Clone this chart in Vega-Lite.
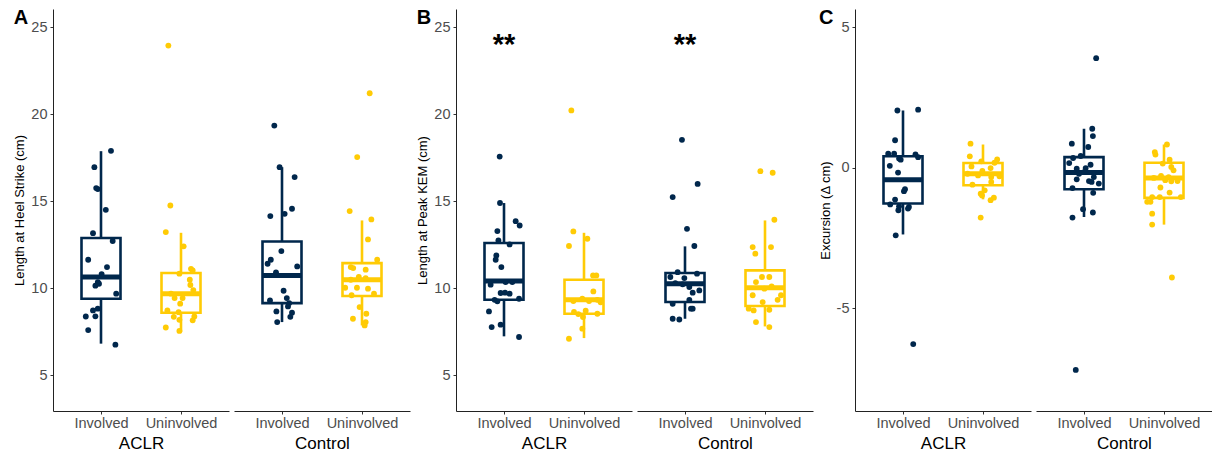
{
  "$schema": "https://vega.github.io/schema/vega-lite/v6.json",
  "padding": {"left": 13, "top": 8, "right": 0, "bottom": 0},
  "background": "white",
  "config": {
    "font": "Liberation Sans",
    "view": {"stroke": null},
    "axis": {"grid": false, "domainColor": "#222222", "domainWidth": 1, "tickColor": "#333333", "tickSize": 3, "tickWidth": 1, "labelFontSize": 14.5, "labelColor": "#4D4D4D", "labelPadding": 2.5, "titleFontWeight": "normal", "titleColor": "black"},
    "axisX": {"labelAngle": 0, "titleFontSize": 17, "titlePadding": 5},
    "axisY": {"titleFontSize": 13, "titlePadding": 4, "labelPadding": 3, "labelExpr": "'' + datum.value"},
    "title": {"anchor": "start", "frame": "bounds", "fontSize": 20, "fontWeight": "bold", "color": "black", "offset": -19, "baseline": "alphabetic"}
  },
  "datasets": {
    "A": [
      {"group":"ACLR","side":"Involved","kind":"box","lower":6.82,"q1":9.40,"median":10.65,"q3":12.89,"upper":17.88},
      {"group":"ACLR","side":"Uninvolved","kind":"box","lower":7.5,"q1":8.6,"median":9.69,"q3":10.88,"upper":13.19},
      {"group":"Control","side":"Involved","kind":"box","lower":8.06,"q1":9.15,"median":10.74,"q3":12.69,"upper":16.96},
      {"group":"Control","side":"Uninvolved","kind":"box","lower":7.87,"q1":9.56,"median":10.49,"q3":11.45,"upper":13.9},
      {"group":"ACLR","side":"Involved","kind":"pt","value":17.9,"jitter":0.125},
      {"group":"ACLR","side":"Involved","kind":"pt","value":16.96,"jitter":-0.083},
      {"group":"ACLR","side":"Involved","kind":"pt","value":15.76,"jitter":-0.06},
      {"group":"ACLR","side":"Involved","kind":"pt","value":15.7,"jitter":-0.04},
      {"group":"ACLR","side":"Involved","kind":"pt","value":14.51,"jitter":0.06},
      {"group":"ACLR","side":"Involved","kind":"pt","value":13.17,"jitter":-0.1},
      {"group":"ACLR","side":"Involved","kind":"pt","value":12.72,"jitter":0.146},
      {"group":"ACLR","side":"Involved","kind":"pt","value":11.64,"jitter":-0.16},
      {"group":"ACLR","side":"Involved","kind":"pt","value":11.22,"jitter":0.075},
      {"group":"ACLR","side":"Involved","kind":"pt","value":10.82,"jitter":0.008},
      {"group":"ACLR","side":"Involved","kind":"pt","value":10.36,"jitter":-0.04},
      {"group":"ACLR","side":"Involved","kind":"pt","value":10.15,"jitter":-0.07},
      {"group":"ACLR","side":"Involved","kind":"pt","value":10.26,"jitter":-0.025},
      {"group":"ACLR","side":"Involved","kind":"pt","value":9.69,"jitter":0.19},
      {"group":"ACLR","side":"Involved","kind":"pt","value":8.83,"jitter":-0.04},
      {"group":"ACLR","side":"Involved","kind":"pt","value":8.73,"jitter":-0.1},
      {"group":"ACLR","side":"Involved","kind":"pt","value":8.38,"jitter":-0.19},
      {"group":"ACLR","side":"Involved","kind":"pt","value":8.39,"jitter":-0.07},
      {"group":"ACLR","side":"Involved","kind":"pt","value":7.6,"jitter":-0.16},
      {"group":"ACLR","side":"Involved","kind":"pt","value":6.76,"jitter":0.18},
      {"group":"ACLR","side":"Uninvolved","kind":"pt","value":23.95,"jitter":-0.158},
      {"group":"ACLR","side":"Uninvolved","kind":"pt","value":14.76,"jitter":-0.133},
      {"group":"ACLR","side":"Uninvolved","kind":"pt","value":13.23,"jitter":-0.19},
      {"group":"ACLR","side":"Uninvolved","kind":"pt","value":12.41,"jitter":0.033},
      {"group":"ACLR","side":"Uninvolved","kind":"pt","value":11.12,"jitter":0.125},
      {"group":"ACLR","side":"Uninvolved","kind":"pt","value":11.03,"jitter":0.146},
      {"group":"ACLR","side":"Uninvolved","kind":"pt","value":10.84,"jitter":-0.02},
      {"group":"ACLR","side":"Uninvolved","kind":"pt","value":10.49,"jitter":0.11},
      {"group":"ACLR","side":"Uninvolved","kind":"pt","value":10.19,"jitter":0.117},
      {"group":"ACLR","side":"Uninvolved","kind":"pt","value":9.9,"jitter":0.154},
      {"group":"ACLR","side":"Uninvolved","kind":"pt","value":9.69,"jitter":-0.125},
      {"group":"ACLR","side":"Uninvolved","kind":"pt","value":9.44,"jitter":0.02},
      {"group":"ACLR","side":"Uninvolved","kind":"pt","value":9.44,"jitter":-0.08},
      {"group":"ACLR","side":"Uninvolved","kind":"pt","value":9.12,"jitter":-0.01},
      {"group":"ACLR","side":"Uninvolved","kind":"pt","value":8.73,"jitter":-0.17},
      {"group":"ACLR","side":"Uninvolved","kind":"pt","value":8.63,"jitter":-0.03},
      {"group":"ACLR","side":"Uninvolved","kind":"pt","value":8.36,"jitter":-0.09},
      {"group":"ACLR","side":"Uninvolved","kind":"pt","value":8.38,"jitter":0.167},
      {"group":"ACLR","side":"Uninvolved","kind":"pt","value":8.16,"jitter":0.146},
      {"group":"ACLR","side":"Uninvolved","kind":"pt","value":8.19,"jitter":-0.02},
      {"group":"ACLR","side":"Uninvolved","kind":"pt","value":7.75,"jitter":-0.19},
      {"group":"ACLR","side":"Uninvolved","kind":"pt","value":7.55,"jitter":-0.02},
      {"group":"Control","side":"Involved","kind":"pt","value":19.35,"jitter":-0.096},
      {"group":"Control","side":"Involved","kind":"pt","value":16.96,"jitter":-0.03},
      {"group":"Control","side":"Involved","kind":"pt","value":16.39,"jitter":0.158},
      {"group":"Control","side":"Involved","kind":"pt","value":14.15,"jitter":-0.146},
      {"group":"Control","side":"Involved","kind":"pt","value":14.28,"jitter":0.033},
      {"group":"Control","side":"Involved","kind":"pt","value":14.57,"jitter":0.125},
      {"group":"Control","side":"Involved","kind":"pt","value":12.14,"jitter":-0.008},
      {"group":"Control","side":"Involved","kind":"pt","value":11.64,"jitter":-0.14},
      {"group":"Control","side":"Involved","kind":"pt","value":11.41,"jitter":-0.18},
      {"group":"Control","side":"Involved","kind":"pt","value":11.26,"jitter":0.19},
      {"group":"Control","side":"Involved","kind":"pt","value":10.92,"jitter":-0.075},
      {"group":"Control","side":"Involved","kind":"pt","value":9.86,"jitter":0.02},
      {"group":"Control","side":"Involved","kind":"pt","value":9.44,"jitter":0.06},
      {"group":"Control","side":"Involved","kind":"pt","value":9.3,"jitter":-0.15},
      {"group":"Control","side":"Involved","kind":"pt","value":9.15,"jitter":0.09},
      {"group":"Control","side":"Involved","kind":"pt","value":8.96,"jitter":0.075},
      {"group":"Control","side":"Involved","kind":"pt","value":8.6,"jitter":0.125},
      {"group":"Control","side":"Involved","kind":"pt","value":8.36,"jitter":0.104},
      {"group":"Control","side":"Involved","kind":"pt","value":8.67,"jitter":-0.07},
      {"group":"Control","side":"Involved","kind":"pt","value":8.06,"jitter":-0.06},
      {"group":"Control","side":"Uninvolved","kind":"pt","value":21.21,"jitter":0.096},
      {"group":"Control","side":"Uninvolved","kind":"pt","value":17.54,"jitter":-0.06},
      {"group":"Control","side":"Uninvolved","kind":"pt","value":14.44,"jitter":-0.154},
      {"group":"Control","side":"Uninvolved","kind":"pt","value":13.96,"jitter":0.117},
      {"group":"Control","side":"Uninvolved","kind":"pt","value":12.81,"jitter":0.075},
      {"group":"Control","side":"Uninvolved","kind":"pt","value":11.64,"jitter":0.19},
      {"group":"Control","side":"Uninvolved","kind":"pt","value":11.22,"jitter":-0.14},
      {"group":"Control","side":"Uninvolved","kind":"pt","value":11.16,"jitter":-0.11},
      {"group":"Control","side":"Uninvolved","kind":"pt","value":11.07,"jitter":0.046},
      {"group":"Control","side":"Uninvolved","kind":"pt","value":10.65,"jitter":-0.04},
      {"group":"Control","side":"Uninvolved","kind":"pt","value":10.59,"jitter":0.046},
      {"group":"Control","side":"Uninvolved","kind":"pt","value":10.49,"jitter":-0.14},
      {"group":"Control","side":"Uninvolved","kind":"pt","value":10.03,"jitter":-0.21},
      {"group":"Control","side":"Uninvolved","kind":"pt","value":10.03,"jitter":-0.063},
      {"group":"Control","side":"Uninvolved","kind":"pt","value":9.98,"jitter":0.075},
      {"group":"Control","side":"Uninvolved","kind":"pt","value":9.69,"jitter":0.15},
      {"group":"Control","side":"Uninvolved","kind":"pt","value":9.6,"jitter":-0.13},
      {"group":"Control","side":"Uninvolved","kind":"pt","value":8.92,"jitter":-0.03},
      {"group":"Control","side":"Uninvolved","kind":"pt","value":8.54,"jitter":0.054},
      {"group":"Control","side":"Uninvolved","kind":"pt","value":8.25,"jitter":-0.113},
      {"group":"Control","side":"Uninvolved","kind":"pt","value":8.06,"jitter":0.046},
      {"group":"Control","side":"Uninvolved","kind":"pt","value":7.87,"jitter":0.033}
    ],
    "B": [
      {"group":"ACLR","side":"Involved","kind":"box","lower":7.24,"q1":9.34,"median":10.42,"q3":12.6,"upper":14.9},
      {"group":"ACLR","side":"Uninvolved","kind":"box","lower":7.14,"q1":8.54,"median":9.34,"q3":10.49,"upper":13.19},
      {"group":"Control","side":"Involved","kind":"box","lower":8.25,"q1":9.21,"median":10.26,"q3":10.88,"upper":12.41},
      {"group":"Control","side":"Uninvolved","kind":"box","lower":7.81,"q1":8.98,"median":10.03,"q3":11.03,"upper":13.9},
      {"group":"ACLR","side":"Involved","kind":"sig","value":24.0,"label":"**"},
      {"group":"Control","side":"Involved","kind":"sig","value":24.0,"label":"**"},
      {"group":"ACLR","side":"Involved","kind":"pt","value":17.57,"jitter":-0.054},
      {"group":"ACLR","side":"Involved","kind":"pt","value":14.9,"jitter":-0.05},
      {"group":"ACLR","side":"Involved","kind":"pt","value":13.86,"jitter":0.146},
      {"group":"ACLR","side":"Involved","kind":"pt","value":13.61,"jitter":0.196},
      {"group":"ACLR","side":"Involved","kind":"pt","value":13.29,"jitter":-0.083},
      {"group":"ACLR","side":"Involved","kind":"pt","value":12.75,"jitter":-0.07},
      {"group":"ACLR","side":"Involved","kind":"pt","value":12.52,"jitter":0.07},
      {"group":"ACLR","side":"Involved","kind":"pt","value":11.89,"jitter":-0.096},
      {"group":"ACLR","side":"Involved","kind":"pt","value":11.64,"jitter":-0.104},
      {"group":"ACLR","side":"Involved","kind":"pt","value":11.22,"jitter":-0.033},
      {"group":"ACLR","side":"Involved","kind":"pt","value":10.21,"jitter":-0.167},
      {"group":"ACLR","side":"Involved","kind":"pt","value":10.36,"jitter":0.104},
      {"group":"ACLR","side":"Involved","kind":"pt","value":10.36,"jitter":0.02},
      {"group":"ACLR","side":"Involved","kind":"pt","value":9.73,"jitter":-0.042},
      {"group":"ACLR","side":"Involved","kind":"pt","value":9.75,"jitter":0.013},
      {"group":"ACLR","side":"Involved","kind":"pt","value":9.69,"jitter":0.07},
      {"group":"ACLR","side":"Involved","kind":"pt","value":9.34,"jitter":-0.117},
      {"group":"ACLR","side":"Involved","kind":"pt","value":9.25,"jitter":-0.083},
      {"group":"ACLR","side":"Involved","kind":"pt","value":9.4,"jitter":0.188},
      {"group":"ACLR","side":"Involved","kind":"pt","value":8.67,"jitter":-0.188},
      {"group":"ACLR","side":"Involved","kind":"pt","value":7.77,"jitter":-0.154},
      {"group":"ACLR","side":"Involved","kind":"pt","value":7.91,"jitter":-0.042},
      {"group":"ACLR","side":"Involved","kind":"pt","value":7.2,"jitter":0.188},
      {"group":"ACLR","side":"Uninvolved","kind":"pt","value":20.22,"jitter":-0.158},
      {"group":"ACLR","side":"Uninvolved","kind":"pt","value":13.27,"jitter":-0.133},
      {"group":"ACLR","side":"Uninvolved","kind":"pt","value":12.43,"jitter":-0.188},
      {"group":"ACLR","side":"Uninvolved","kind":"pt","value":12.85,"jitter":0.042},
      {"group":"ACLR","side":"Uninvolved","kind":"pt","value":10.74,"jitter":0.113},
      {"group":"ACLR","side":"Uninvolved","kind":"pt","value":10.74,"jitter":0.154},
      {"group":"ACLR","side":"Uninvolved","kind":"pt","value":9.82,"jitter":0.117},
      {"group":"ACLR","side":"Uninvolved","kind":"pt","value":9.4,"jitter":-0.021},
      {"group":"ACLR","side":"Uninvolved","kind":"pt","value":9.27,"jitter":-0.133},
      {"group":"ACLR","side":"Uninvolved","kind":"pt","value":9.27,"jitter":0.063},
      {"group":"ACLR","side":"Uninvolved","kind":"pt","value":9.34,"jitter":0.167},
      {"group":"ACLR","side":"Uninvolved","kind":"pt","value":9.2,"jitter":0.208},
      {"group":"ACLR","side":"Uninvolved","kind":"pt","value":8.64,"jitter":-0.125},
      {"group":"ACLR","side":"Uninvolved","kind":"pt","value":8.52,"jitter":-0.071},
      {"group":"ACLR","side":"Uninvolved","kind":"pt","value":8.71,"jitter":0.021},
      {"group":"ACLR","side":"Uninvolved","kind":"pt","value":8.54,"jitter":0.167},
      {"group":"ACLR","side":"Uninvolved","kind":"pt","value":8.35,"jitter":-0.013},
      {"group":"ACLR","side":"Uninvolved","kind":"pt","value":7.68,"jitter":-0.021},
      {"group":"ACLR","side":"Uninvolved","kind":"pt","value":7.1,"jitter":-0.188},
      {"group":"Control","side":"Involved","kind":"pt","value":18.53,"jitter":-0.038},
      {"group":"Control","side":"Involved","kind":"pt","value":16.0,"jitter":0.158},
      {"group":"Control","side":"Involved","kind":"pt","value":15.24,"jitter":-0.154},
      {"group":"Control","side":"Involved","kind":"pt","value":13.42,"jitter":0.025},
      {"group":"Control","side":"Involved","kind":"pt","value":12.43,"jitter":0.117},
      {"group":"Control","side":"Involved","kind":"pt","value":10.93,"jitter":-0.092},
      {"group":"Control","side":"Involved","kind":"pt","value":10.65,"jitter":-0.183},
      {"group":"Control","side":"Involved","kind":"pt","value":10.59,"jitter":-0.008},
      {"group":"Control","side":"Involved","kind":"pt","value":10.84,"jitter":0.15},
      {"group":"Control","side":"Involved","kind":"pt","value":10.3,"jitter":-0.121},
      {"group":"Control","side":"Involved","kind":"pt","value":10.23,"jitter":-0.029},
      {"group":"Control","side":"Involved","kind":"pt","value":10.07,"jitter":0.054},
      {"group":"Control","side":"Involved","kind":"pt","value":9.88,"jitter":0.179},
      {"group":"Control","side":"Involved","kind":"pt","value":9.75,"jitter":0.096},
      {"group":"Control","side":"Involved","kind":"pt","value":9.34,"jitter":0.054},
      {"group":"Control","side":"Involved","kind":"pt","value":9.11,"jitter":-0.154},
      {"group":"Control","side":"Involved","kind":"pt","value":8.83,"jitter":0.075},
      {"group":"Control","side":"Involved","kind":"pt","value":8.83,"jitter":0.096},
      {"group":"Control","side":"Involved","kind":"pt","value":8.25,"jitter":-0.154},
      {"group":"Control","side":"Involved","kind":"pt","value":8.21,"jitter":-0.071},
      {"group":"Control","side":"Uninvolved","kind":"pt","value":16.73,"jitter":-0.058},
      {"group":"Control","side":"Uninvolved","kind":"pt","value":16.64,"jitter":0.096},
      {"group":"Control","side":"Uninvolved","kind":"pt","value":13.94,"jitter":0.117},
      {"group":"Control","side":"Uninvolved","kind":"pt","value":12.37,"jitter":-0.154},
      {"group":"Control","side":"Uninvolved","kind":"pt","value":12.37,"jitter":0.075},
      {"group":"Control","side":"Uninvolved","kind":"pt","value":11.99,"jitter":-0.121},
      {"group":"Control","side":"Uninvolved","kind":"pt","value":10.65,"jitter":-0.038},
      {"group":"Control","side":"Uninvolved","kind":"pt","value":10.65,"jitter":0.054},
      {"group":"Control","side":"Uninvolved","kind":"pt","value":10.36,"jitter":-0.113},
      {"group":"Control","side":"Uninvolved","kind":"pt","value":9.98,"jitter":-0.008},
      {"group":"Control","side":"Uninvolved","kind":"pt","value":10.11,"jitter":0.083},
      {"group":"Control","side":"Uninvolved","kind":"pt","value":9.6,"jitter":-0.154},
      {"group":"Control","side":"Uninvolved","kind":"pt","value":9.6,"jitter":0.2},
      {"group":"Control","side":"Uninvolved","kind":"pt","value":9.34,"jitter":0.158},
      {"group":"Control","side":"Uninvolved","kind":"pt","value":9.21,"jitter":-0.029},
      {"group":"Control","side":"Uninvolved","kind":"pt","value":8.83,"jitter":-0.204},
      {"group":"Control","side":"Uninvolved","kind":"pt","value":8.73,"jitter":-0.142},
      {"group":"Control","side":"Uninvolved","kind":"pt","value":8.77,"jitter":0.054},
      {"group":"Control","side":"Uninvolved","kind":"pt","value":8.06,"jitter":-0.113},
      {"group":"Control","side":"Uninvolved","kind":"pt","value":7.77,"jitter":0.054}
    ],
    "C": [
      {"group":"ACLR","side":"Involved","kind":"box","lower":-2.37,"q1":-1.27,"median":-0.42,"q3":0.41,"upper":2.04},
      {"group":"ACLR","side":"Uninvolved","kind":"box","lower":-1.12,"q1":-0.62,"median":-0.21,"q3":0.17,"upper":0.83},
      {"group":"Control","side":"Involved","kind":"box","lower":-1.75,"q1":-0.76,"median":-0.17,"q3":0.38,"upper":1.39},
      {"group":"Control","side":"Uninvolved","kind":"box","lower":-2.02,"q1":-1.07,"median":-0.36,"q3":0.18,"upper":0.83},
      {"group":"ACLR","side":"Involved","kind":"pt","value":2.04,"jitter":-0.07},
      {"group":"ACLR","side":"Involved","kind":"pt","value":2.07,"jitter":0.189},
      {"group":"ACLR","side":"Involved","kind":"pt","value":0.98,"jitter":-0.099},
      {"group":"ACLR","side":"Involved","kind":"pt","value":0.5,"jitter":-0.185},
      {"group":"ACLR","side":"Involved","kind":"pt","value":0.5,"jitter":-0.111},
      {"group":"ACLR","side":"Involved","kind":"pt","value":0.48,"jitter":0.156},
      {"group":"ACLR","side":"Involved","kind":"pt","value":0.38,"jitter":0.189},
      {"group":"ACLR","side":"Involved","kind":"pt","value":0.33,"jitter":-0.049},
      {"group":"ACLR","side":"Involved","kind":"pt","value":0.29,"jitter":-0.029},
      {"group":"ACLR","side":"Involved","kind":"pt","value":0.07,"jitter":-0.165},
      {"group":"ACLR","side":"Involved","kind":"pt","value":-0.17,"jitter":-0.062},
      {"group":"ACLR","side":"Involved","kind":"pt","value":-0.76,"jitter":0.025},
      {"group":"ACLR","side":"Involved","kind":"pt","value":-0.83,"jitter":0.012},
      {"group":"ACLR","side":"Involved","kind":"pt","value":-1.13,"jitter":-0.099},
      {"group":"ACLR","side":"Involved","kind":"pt","value":-1.3,"jitter":-0.16},
      {"group":"ACLR","side":"Involved","kind":"pt","value":-1.37,"jitter":-0.049},
      {"group":"ACLR","side":"Involved","kind":"pt","value":-1.39,"jitter":0.074},
      {"group":"ACLR","side":"Involved","kind":"pt","value":-1.51,"jitter":-0.058},
      {"group":"ACLR","side":"Involved","kind":"pt","value":-1.45,"jitter":0.062},
      {"group":"ACLR","side":"Involved","kind":"pt","value":-2.4,"jitter":-0.091},
      {"group":"ACLR","side":"Involved","kind":"pt","value":-6.27,"jitter":0.128},
      {"group":"ACLR","side":"Uninvolved","kind":"pt","value":0.86,"jitter":-0.156},
      {"group":"ACLR","side":"Uninvolved","kind":"pt","value":0.41,"jitter":-0.165},
      {"group":"ACLR","side":"Uninvolved","kind":"pt","value":0.3,"jitter":0.177},
      {"group":"ACLR","side":"Uninvolved","kind":"pt","value":0.18,"jitter":0.144},
      {"group":"ACLR","side":"Uninvolved","kind":"pt","value":0.23,"jitter":-0.021},
      {"group":"ACLR","side":"Uninvolved","kind":"pt","value":0.05,"jitter":-0.144},
      {"group":"ACLR","side":"Uninvolved","kind":"pt","value":-0.11,"jitter":-0.008},
      {"group":"ACLR","side":"Uninvolved","kind":"pt","value":-0.01,"jitter":0.095},
      {"group":"ACLR","side":"Uninvolved","kind":"pt","value":-0.21,"jitter":-0.193},
      {"group":"ACLR","side":"Uninvolved","kind":"pt","value":-0.27,"jitter":-0.062},
      {"group":"ACLR","side":"Uninvolved","kind":"pt","value":-0.33,"jitter":0.103},
      {"group":"ACLR","side":"Uninvolved","kind":"pt","value":-0.3,"jitter":0.206},
      {"group":"ACLR","side":"Uninvolved","kind":"pt","value":-0.6,"jitter":-0.132},
      {"group":"ACLR","side":"Uninvolved","kind":"pt","value":-0.5,"jitter":0.103},
      {"group":"ACLR","side":"Uninvolved","kind":"pt","value":-0.8,"jitter":0.021},
      {"group":"ACLR","side":"Uninvolved","kind":"pt","value":-0.92,"jitter":-0.029},
      {"group":"ACLR","side":"Uninvolved","kind":"pt","value":-0.98,"jitter":-0.012},
      {"group":"ACLR","side":"Uninvolved","kind":"pt","value":-1.15,"jitter":0.095},
      {"group":"ACLR","side":"Uninvolved","kind":"pt","value":-1.06,"jitter":0.136},
      {"group":"ACLR","side":"Uninvolved","kind":"pt","value":-1.77,"jitter":-0.029},
      {"group":"Control","side":"Involved","kind":"pt","value":3.9,"jitter":0.152},
      {"group":"Control","side":"Involved","kind":"pt","value":1.39,"jitter":0.103},
      {"group":"Control","side":"Involved","kind":"pt","value":1.13,"jitter":0.111},
      {"group":"Control","side":"Involved","kind":"pt","value":0.86,"jitter":-0.152},
      {"group":"Control","side":"Involved","kind":"pt","value":0.74,"jitter":0.053},
      {"group":"Control","side":"Involved","kind":"pt","value":0.42,"jitter":-0.041},
      {"group":"Control","side":"Involved","kind":"pt","value":0.35,"jitter":-0.136},
      {"group":"Control","side":"Involved","kind":"pt","value":0.17,"jitter":-0.185},
      {"group":"Control","side":"Involved","kind":"pt","value":0.11,"jitter":0.082},
      {"group":"Control","side":"Involved","kind":"pt","value":-0.03,"jitter":-0.091},
      {"group":"Control","side":"Involved","kind":"pt","value":-0.01,"jitter":0.021},
      {"group":"Control","side":"Involved","kind":"pt","value":-0.15,"jitter":0.0},
      {"group":"Control","side":"Involved","kind":"pt","value":-0.21,"jitter":-0.062},
      {"group":"Control","side":"Involved","kind":"pt","value":-0.33,"jitter":0.123},
      {"group":"Control","side":"Involved","kind":"pt","value":-0.47,"jitter":0.062},
      {"group":"Control","side":"Involved","kind":"pt","value":-0.41,"jitter":-0.091},
      {"group":"Control","side":"Involved","kind":"pt","value":-0.56,"jitter":0.185},
      {"group":"Control","side":"Involved","kind":"pt","value":-0.5,"jitter":0.095},
      {"group":"Control","side":"Involved","kind":"pt","value":-0.72,"jitter":-0.144},
      {"group":"Control","side":"Involved","kind":"pt","value":-0.89,"jitter":0.115},
      {"group":"Control","side":"Involved","kind":"pt","value":-1.47,"jitter":-0.012},
      {"group":"Control","side":"Involved","kind":"pt","value":-1.59,"jitter":0.111},
      {"group":"Control","side":"Involved","kind":"pt","value":-1.77,"jitter":-0.144},
      {"group":"Control","side":"Involved","kind":"pt","value":-7.19,"jitter":-0.103},
      {"group":"Control","side":"Uninvolved","kind":"pt","value":0.83,"jitter":0.037},
      {"group":"Control","side":"Uninvolved","kind":"pt","value":0.56,"jitter":-0.115},
      {"group":"Control","side":"Uninvolved","kind":"pt","value":0.47,"jitter":-0.107},
      {"group":"Control","side":"Uninvolved","kind":"pt","value":0.29,"jitter":0.07},
      {"group":"Control","side":"Uninvolved","kind":"pt","value":0.15,"jitter":-0.016},
      {"group":"Control","side":"Uninvolved","kind":"pt","value":0.03,"jitter":0.091},
      {"group":"Control","side":"Uninvolved","kind":"pt","value":-0.09,"jitter":0.119},
      {"group":"Control","side":"Uninvolved","kind":"pt","value":-0.29,"jitter":-0.037},
      {"group":"Control","side":"Uninvolved","kind":"pt","value":-0.33,"jitter":0.058},
      {"group":"Control","side":"Uninvolved","kind":"pt","value":-0.36,"jitter":-0.128},
      {"group":"Control","side":"Uninvolved","kind":"pt","value":-0.44,"jitter":0.016},
      {"group":"Control","side":"Uninvolved","kind":"pt","value":-0.48,"jitter":0.091},
      {"group":"Control","side":"Uninvolved","kind":"pt","value":-0.47,"jitter":0.169},
      {"group":"Control","side":"Uninvolved","kind":"pt","value":-0.7,"jitter":-0.045},
      {"group":"Control","side":"Uninvolved","kind":"pt","value":-0.88,"jitter":0.07},
      {"group":"Control","side":"Uninvolved","kind":"pt","value":-1.04,"jitter":-0.148},
      {"group":"Control","side":"Uninvolved","kind":"pt","value":-1.04,"jitter":-0.053},
      {"group":"Control","side":"Uninvolved","kind":"pt","value":-1.04,"jitter":0.21},
      {"group":"Control","side":"Uninvolved","kind":"pt","value":-1.21,"jitter":-0.21},
      {"group":"Control","side":"Uninvolved","kind":"pt","value":-1.21,"jitter":-0.169},
      {"group":"Control","side":"Uninvolved","kind":"pt","value":-1.63,"jitter":-0.148},
      {"group":"Control","side":"Uninvolved","kind":"pt","value":-2.02,"jitter":-0.148},
      {"group":"Control","side":"Uninvolved","kind":"pt","value":-3.9,"jitter":0.099}
    ]
  },
  "hconcat": [
    {
      "title": {"text": "A"},
      "spacing": 5,
      "hconcat": [
        {
          "width": 176, "height": 402,
          "data": {"name": "A"},
          "transform": [{"filter": "datum.group == 'ACLR'"}],
          "encoding": {"x": {"field": "side", "type": "nominal", "scale": {"type": "point", "padding": 0.6, "domain": ["Involved", "Uninvolved"]}, "axis": {"title": "ACLR"}}},
          "layer": [
            {"transform": [{"filter": "datum.kind == 'box'"}], "mark": {"type": "rule", "strokeWidth": 2.6},
             "encoding": {"y": {"field": "lower", "type": "quantitative", "scale": {"domain": [2.95, 26.05], "nice": false, "zero": false}, "axis": {"title": "Length at Heel Strike (cm)", "values": [5, 10, 15, 20, 25]}}, "y2": {"field": "upper"},
               "color": {"field": "side", "type": "nominal", "scale": {"domain": ["Involved", "Uninvolved"], "range": ["#00274C", "#FFCB05"]}, "legend": null}}},
            {"transform": [{"filter": "datum.kind == 'box'"}], "mark": {"type": "bar", "width": 39, "fill": "white", "strokeWidth": 2.6},
             "encoding": {"y": {"field": "q1", "type": "quantitative", "scale": {"domain": [2.95, 26.05], "nice": false, "zero": false}, "axis": {"title": "Length at Heel Strike (cm)", "values": [5, 10, 15, 20, 25]}}, "y2": {"field": "q3"},
               "stroke": {"field": "side", "type": "nominal", "scale": {"domain": ["Involved", "Uninvolved"], "range": ["#00274C", "#FFCB05"]}, "legend": null}}},
            {"transform": [{"filter": "datum.kind == 'box'"}], "mark": {"type": "tick", "size": 39, "thickness": 5, "opacity": 1},
             "encoding": {"y": {"field": "median", "type": "quantitative", "scale": {"domain": [2.95, 26.05], "nice": false, "zero": false}, "axis": {"title": "Length at Heel Strike (cm)", "values": [5, 10, 15, 20, 25]}},
               "color": {"field": "side", "type": "nominal", "scale": {"domain": ["Involved", "Uninvolved"], "range": ["#00274C", "#FFCB05"]}, "legend": null}}},
            {"transform": [{"filter": "datum.kind == 'pt'"}], "mark": {"type": "circle", "size": 34, "opacity": 1},
             "encoding": {"y": {"field": "value", "type": "quantitative", "scale": {"domain": [2.95, 26.05], "nice": false, "zero": false}, "axis": {"title": "Length at Heel Strike (cm)", "values": [5, 10, 15, 20, 25]}},
               "xOffset": {"field": "jitter", "type": "quantitative", "scale": {"domain": [-0.5, 0.5], "range": [-40, 40]}},
               "color": {"field": "side", "type": "nominal", "scale": {"domain": ["Involved", "Uninvolved"], "range": ["#00274C", "#FFCB05"]}, "legend": null}}}
          ]
        },
        {
          "width": 176, "height": 402,
          "data": {"name": "A"},
          "transform": [{"filter": "datum.group == 'Control'"}],
          "encoding": {"x": {"field": "side", "type": "nominal", "scale": {"type": "point", "padding": 0.6, "domain": ["Involved", "Uninvolved"]}, "axis": {"title": "Control"}}},
          "layer": [
            {"transform": [{"filter": "datum.kind == 'box'"}], "mark": {"type": "rule", "strokeWidth": 2.6},
             "encoding": {"y": {"field": "lower", "type": "quantitative", "scale": {"domain": [2.95, 26.05], "nice": false, "zero": false}, "axis": null}, "y2": {"field": "upper"},
               "color": {"field": "side", "type": "nominal", "scale": {"domain": ["Involved", "Uninvolved"], "range": ["#00274C", "#FFCB05"]}, "legend": null}}},
            {"transform": [{"filter": "datum.kind == 'box'"}], "mark": {"type": "bar", "width": 39, "fill": "white", "strokeWidth": 2.6},
             "encoding": {"y": {"field": "q1", "type": "quantitative", "scale": {"domain": [2.95, 26.05], "nice": false, "zero": false}, "axis": null}, "y2": {"field": "q3"},
               "stroke": {"field": "side", "type": "nominal", "scale": {"domain": ["Involved", "Uninvolved"], "range": ["#00274C", "#FFCB05"]}, "legend": null}}},
            {"transform": [{"filter": "datum.kind == 'box'"}], "mark": {"type": "tick", "size": 39, "thickness": 5, "opacity": 1},
             "encoding": {"y": {"field": "median", "type": "quantitative", "scale": {"domain": [2.95, 26.05], "nice": false, "zero": false}, "axis": null},
               "color": {"field": "side", "type": "nominal", "scale": {"domain": ["Involved", "Uninvolved"], "range": ["#00274C", "#FFCB05"]}, "legend": null}}},
            {"transform": [{"filter": "datum.kind == 'pt'"}], "mark": {"type": "circle", "size": 34, "opacity": 1},
             "encoding": {"y": {"field": "value", "type": "quantitative", "scale": {"domain": [2.95, 26.05], "nice": false, "zero": false}, "axis": null},
               "xOffset": {"field": "jitter", "type": "quantitative", "scale": {"domain": [-0.5, 0.5], "range": [-40, 40]}},
               "color": {"field": "side", "type": "nominal", "scale": {"domain": ["Involved", "Uninvolved"], "range": ["#00274C", "#FFCB05"]}, "legend": null}}}
          ]
        }
      ]
    },
    {
      "title": {"text": "B"},
      "spacing": 5,
      "hconcat": [
        {
          "width": 176, "height": 402,
          "data": {"name": "B"},
          "transform": [{"filter": "datum.group == 'ACLR'"}],
          "encoding": {"x": {"field": "side", "type": "nominal", "scale": {"type": "point", "padding": 0.6, "domain": ["Involved", "Uninvolved"]}, "axis": {"title": "ACLR"}}},
          "layer": [
            {"transform": [{"filter": "datum.kind == 'box'"}], "mark": {"type": "rule", "strokeWidth": 2.6},
             "encoding": {"y": {"field": "lower", "type": "quantitative", "scale": {"domain": [2.95, 26.05], "nice": false, "zero": false}, "axis": {"title": "Length at Peak KEM (cm)", "values": [5, 10, 15, 20, 25]}}, "y2": {"field": "upper"},
               "color": {"field": "side", "type": "nominal", "scale": {"domain": ["Involved", "Uninvolved"], "range": ["#00274C", "#FFCB05"]}, "legend": null}}},
            {"transform": [{"filter": "datum.kind == 'box'"}], "mark": {"type": "bar", "width": 39, "fill": "white", "strokeWidth": 2.6},
             "encoding": {"y": {"field": "q1", "type": "quantitative", "scale": {"domain": [2.95, 26.05], "nice": false, "zero": false}, "axis": {"title": "Length at Peak KEM (cm)", "values": [5, 10, 15, 20, 25]}}, "y2": {"field": "q3"},
               "stroke": {"field": "side", "type": "nominal", "scale": {"domain": ["Involved", "Uninvolved"], "range": ["#00274C", "#FFCB05"]}, "legend": null}}},
            {"transform": [{"filter": "datum.kind == 'box'"}], "mark": {"type": "tick", "size": 39, "thickness": 5, "opacity": 1},
             "encoding": {"y": {"field": "median", "type": "quantitative", "scale": {"domain": [2.95, 26.05], "nice": false, "zero": false}, "axis": {"title": "Length at Peak KEM (cm)", "values": [5, 10, 15, 20, 25]}},
               "color": {"field": "side", "type": "nominal", "scale": {"domain": ["Involved", "Uninvolved"], "range": ["#00274C", "#FFCB05"]}, "legend": null}}},
            {"transform": [{"filter": "datum.kind == 'pt'"}], "mark": {"type": "circle", "size": 34, "opacity": 1},
             "encoding": {"y": {"field": "value", "type": "quantitative", "scale": {"domain": [2.95, 26.05], "nice": false, "zero": false}, "axis": {"title": "Length at Peak KEM (cm)", "values": [5, 10, 15, 20, 25]}},
               "xOffset": {"field": "jitter", "type": "quantitative", "scale": {"domain": [-0.5, 0.5], "range": [-40, 40]}},
               "color": {"field": "side", "type": "nominal", "scale": {"domain": ["Involved", "Uninvolved"], "range": ["#00274C", "#FFCB05"]}, "legend": null}}},
            {"transform": [{"filter": "datum.kind == 'sig'"}], "mark": {"type": "text", "fontSize": 29, "fontWeight": "bold", "color": "black", "baseline": "middle"},
             "encoding": {"y": {"field": "value", "type": "quantitative", "scale": {"domain": [2.95, 26.05], "nice": false, "zero": false}, "axis": {"title": "Length at Peak KEM (cm)", "values": [5, 10, 15, 20, 25]}}, "text": {"field": "label"}}}
          ]
        },
        {
          "width": 176, "height": 402,
          "data": {"name": "B"},
          "transform": [{"filter": "datum.group == 'Control'"}],
          "encoding": {"x": {"field": "side", "type": "nominal", "scale": {"type": "point", "padding": 0.6, "domain": ["Involved", "Uninvolved"]}, "axis": {"title": "Control"}}},
          "layer": [
            {"transform": [{"filter": "datum.kind == 'box'"}], "mark": {"type": "rule", "strokeWidth": 2.6},
             "encoding": {"y": {"field": "lower", "type": "quantitative", "scale": {"domain": [2.95, 26.05], "nice": false, "zero": false}, "axis": null}, "y2": {"field": "upper"},
               "color": {"field": "side", "type": "nominal", "scale": {"domain": ["Involved", "Uninvolved"], "range": ["#00274C", "#FFCB05"]}, "legend": null}}},
            {"transform": [{"filter": "datum.kind == 'box'"}], "mark": {"type": "bar", "width": 39, "fill": "white", "strokeWidth": 2.6},
             "encoding": {"y": {"field": "q1", "type": "quantitative", "scale": {"domain": [2.95, 26.05], "nice": false, "zero": false}, "axis": null}, "y2": {"field": "q3"},
               "stroke": {"field": "side", "type": "nominal", "scale": {"domain": ["Involved", "Uninvolved"], "range": ["#00274C", "#FFCB05"]}, "legend": null}}},
            {"transform": [{"filter": "datum.kind == 'box'"}], "mark": {"type": "tick", "size": 39, "thickness": 5, "opacity": 1},
             "encoding": {"y": {"field": "median", "type": "quantitative", "scale": {"domain": [2.95, 26.05], "nice": false, "zero": false}, "axis": null},
               "color": {"field": "side", "type": "nominal", "scale": {"domain": ["Involved", "Uninvolved"], "range": ["#00274C", "#FFCB05"]}, "legend": null}}},
            {"transform": [{"filter": "datum.kind == 'pt'"}], "mark": {"type": "circle", "size": 34, "opacity": 1},
             "encoding": {"y": {"field": "value", "type": "quantitative", "scale": {"domain": [2.95, 26.05], "nice": false, "zero": false}, "axis": null},
               "xOffset": {"field": "jitter", "type": "quantitative", "scale": {"domain": [-0.5, 0.5], "range": [-40, 40]}},
               "color": {"field": "side", "type": "nominal", "scale": {"domain": ["Involved", "Uninvolved"], "range": ["#00274C", "#FFCB05"]}, "legend": null}}},
            {"transform": [{"filter": "datum.kind == 'sig'"}], "mark": {"type": "text", "fontSize": 29, "fontWeight": "bold", "color": "black", "baseline": "middle"},
             "encoding": {"y": {"field": "value", "type": "quantitative", "scale": {"domain": [2.95, 26.05], "nice": false, "zero": false}, "axis": null}, "text": {"field": "label"}}}
          ]
        }
      ]
    },
    {
      "title": {"text": "C"},
      "spacing": 5,
      "hconcat": [
        {
          "width": 176, "height": 402,
          "data": {"name": "C"},
          "transform": [{"filter": "datum.group == 'ACLR'"}],
          "encoding": {"x": {"field": "side", "type": "nominal", "scale": {"type": "point", "padding": 0.6, "domain": ["Involved", "Uninvolved"]}, "axis": {"title": "ACLR"}}},
          "layer": [
            {"transform": [{"filter": "datum.kind == 'box'"}], "mark": {"type": "rule", "strokeWidth": 2.6},
             "encoding": {"y": {"field": "lower", "type": "quantitative", "scale": {"domain": [-8.65, 5.65], "nice": false, "zero": false}, "axis": {"title": "Excursion (Δ cm)", "values": [-5, 0, 5]}}, "y2": {"field": "upper"},
               "color": {"field": "side", "type": "nominal", "scale": {"domain": ["Involved", "Uninvolved"], "range": ["#00274C", "#FFCB05"]}, "legend": null}}},
            {"transform": [{"filter": "datum.kind == 'box'"}], "mark": {"type": "bar", "width": 39, "fill": "white", "strokeWidth": 2.6},
             "encoding": {"y": {"field": "q1", "type": "quantitative", "scale": {"domain": [-8.65, 5.65], "nice": false, "zero": false}, "axis": {"title": "Excursion (Δ cm)", "values": [-5, 0, 5]}}, "y2": {"field": "q3"},
               "stroke": {"field": "side", "type": "nominal", "scale": {"domain": ["Involved", "Uninvolved"], "range": ["#00274C", "#FFCB05"]}, "legend": null}}},
            {"transform": [{"filter": "datum.kind == 'box'"}], "mark": {"type": "tick", "size": 39, "thickness": 5, "opacity": 1},
             "encoding": {"y": {"field": "median", "type": "quantitative", "scale": {"domain": [-8.65, 5.65], "nice": false, "zero": false}, "axis": {"title": "Excursion (Δ cm)", "values": [-5, 0, 5]}},
               "color": {"field": "side", "type": "nominal", "scale": {"domain": ["Involved", "Uninvolved"], "range": ["#00274C", "#FFCB05"]}, "legend": null}}},
            {"transform": [{"filter": "datum.kind == 'pt'"}], "mark": {"type": "circle", "size": 34, "opacity": 1},
             "encoding": {"y": {"field": "value", "type": "quantitative", "scale": {"domain": [-8.65, 5.65], "nice": false, "zero": false}, "axis": {"title": "Excursion (Δ cm)", "values": [-5, 0, 5]}},
               "xOffset": {"field": "jitter", "type": "quantitative", "scale": {"domain": [-0.5, 0.5], "range": [-40, 40]}},
               "color": {"field": "side", "type": "nominal", "scale": {"domain": ["Involved", "Uninvolved"], "range": ["#00274C", "#FFCB05"]}, "legend": null}}}
          ]
        },
        {
          "width": 176, "height": 402,
          "data": {"name": "C"},
          "transform": [{"filter": "datum.group == 'Control'"}],
          "encoding": {"x": {"field": "side", "type": "nominal", "scale": {"type": "point", "padding": 0.6, "domain": ["Involved", "Uninvolved"]}, "axis": {"title": "Control"}}},
          "layer": [
            {"transform": [{"filter": "datum.kind == 'box'"}], "mark": {"type": "rule", "strokeWidth": 2.6},
             "encoding": {"y": {"field": "lower", "type": "quantitative", "scale": {"domain": [-8.65, 5.65], "nice": false, "zero": false}, "axis": null}, "y2": {"field": "upper"},
               "color": {"field": "side", "type": "nominal", "scale": {"domain": ["Involved", "Uninvolved"], "range": ["#00274C", "#FFCB05"]}, "legend": null}}},
            {"transform": [{"filter": "datum.kind == 'box'"}], "mark": {"type": "bar", "width": 39, "fill": "white", "strokeWidth": 2.6},
             "encoding": {"y": {"field": "q1", "type": "quantitative", "scale": {"domain": [-8.65, 5.65], "nice": false, "zero": false}, "axis": null}, "y2": {"field": "q3"},
               "stroke": {"field": "side", "type": "nominal", "scale": {"domain": ["Involved", "Uninvolved"], "range": ["#00274C", "#FFCB05"]}, "legend": null}}},
            {"transform": [{"filter": "datum.kind == 'box'"}], "mark": {"type": "tick", "size": 39, "thickness": 5, "opacity": 1},
             "encoding": {"y": {"field": "median", "type": "quantitative", "scale": {"domain": [-8.65, 5.65], "nice": false, "zero": false}, "axis": null},
               "color": {"field": "side", "type": "nominal", "scale": {"domain": ["Involved", "Uninvolved"], "range": ["#00274C", "#FFCB05"]}, "legend": null}}},
            {"transform": [{"filter": "datum.kind == 'pt'"}], "mark": {"type": "circle", "size": 34, "opacity": 1},
             "encoding": {"y": {"field": "value", "type": "quantitative", "scale": {"domain": [-8.65, 5.65], "nice": false, "zero": false}, "axis": null},
               "xOffset": {"field": "jitter", "type": "quantitative", "scale": {"domain": [-0.5, 0.5], "range": [-40, 40]}},
               "color": {"field": "side", "type": "nominal", "scale": {"domain": ["Involved", "Uninvolved"], "range": ["#00274C", "#FFCB05"]}, "legend": null}}}
          ]
        }
      ]
    }
  ],
  "spacing": 6
}
